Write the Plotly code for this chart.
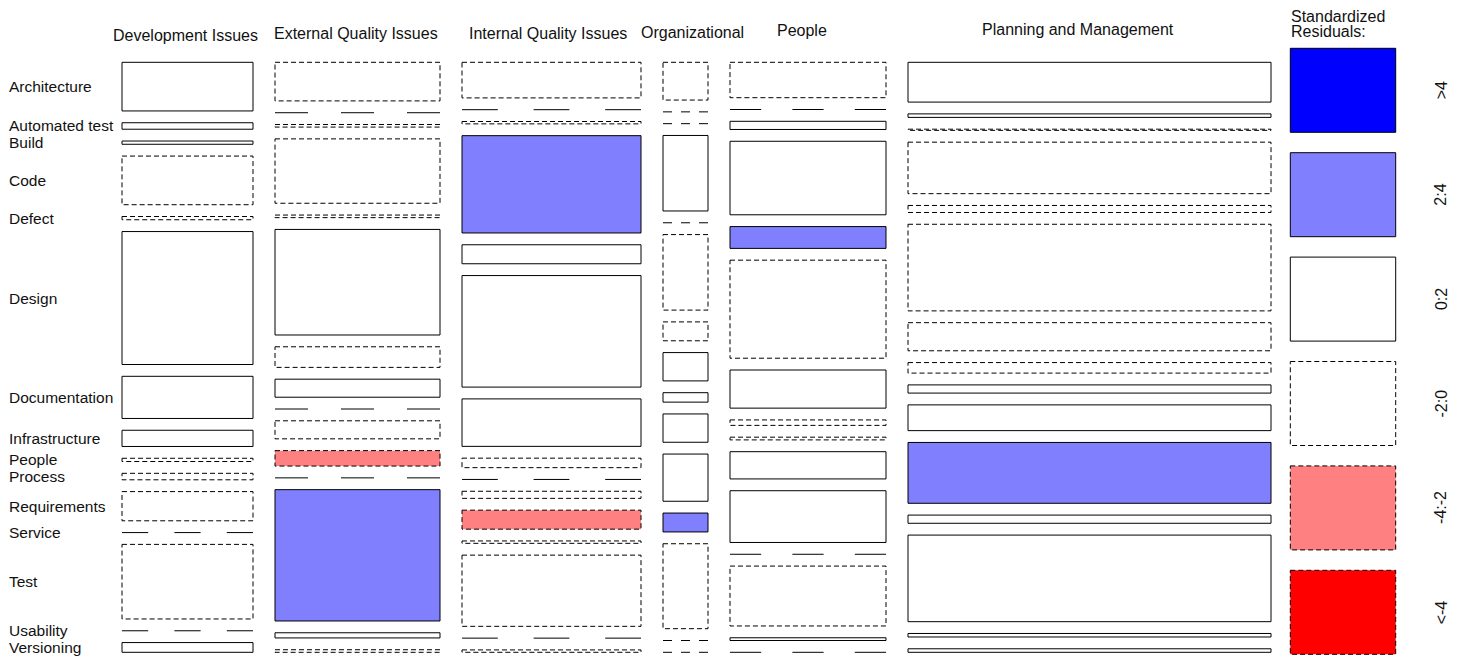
import numpy as np
import plotly.graph_objects as go

# contingency table: issue category (columns) x topic (rows)
columns = ["Development Issues", "External Quality Issues", "Internal Quality Issues",
           "Organizational", "People", "Planning and Management"]
rows = ["Architecture", "Automated test", "Build", "Code", "Defect", "Design",
        "Documentation", "Infrastructure", "People", "Process", "Requirements",
        "Service", "Test", "Usability", "Versioning"]

development = [15, 2, 1, 15, 1, 41, 13, 5, 1, 2, 9, 0, 23, 0, 3]
external = [15, 0, 1, 25, 1, 41, 8, 7, 0, 7, 6, 0, 51, 2, 1]
internal = [15, 0, 1, 41, 8, 47, 20, 4, 0, 3, 8, 1, 30, 0, 1]
organizational = [4, 0, 0, 8, 0, 8, 2, 3, 1, 3, 5, 2, 9, 0, 0]
people = [13, 0, 3, 27, 8, 36, 14, 2, 1, 10, 19, 0, 22, 1, 0]
planning = [34, 3, 1, 44, 6, 74, 24, 9, 7, 22, 52, 7, 74, 3, 3]

legend_labels = [">4", "2:4", "0:2", "-2:0", "-4:-2", "<-4"]

# %% layout constants (page pixels; the html body has an 8px margin)
W, H = 1458, 666
PAD = 8
X0, X1 = 122, 1271
Y0, Y1 = 62.3, 652.3
COL_GAP = 22
ROW_GAP = 11.8
FONT = "Arial, Liberation Sans, sans-serif"
DASH = "5px,3px"

table = np.array([development, external, internal, organizational, people, planning], dtype=float).T
n_rows, n_cols = table.shape
col_tot = table.sum(axis=0)
row_tot = table.sum(axis=1)
N = table.sum()
expected = np.outer(row_tot, col_tot) / N
resid = (table - expected) / np.sqrt(expected)

breaks = [-np.inf, -4, -2, 0, 2, 4, np.inf]
shade_colors = ["#FF0000", "#FF8080", "#FFFFFF", "#FFFFFF", "#8080FF", "#0000FF"]


def shade(r):
    k = np.searchsorted(breaks, r) - 1
    return shade_colors[int(np.clip(k, 0, 5))]


xscale = (X1 - X0 - (n_cols - 1) * COL_GAP) / N
content_h = (Y1 - Y0) - (n_rows - 1) * ROW_GAP

shapes = []
annotations = []
row_centers = []
col_left = X0
for j in range(n_cols):
    width = col_tot[j] * xscale
    y = Y0
    for i in range(n_rows):
        h = table[i, j] / col_tot[j] * content_h
        if table[i, j] == 0:
            seg = width / 5
            for k in (0, 2, 4):
                shapes.append(dict(type="line", x0=col_left + k * seg, x1=col_left + (k + 1) * seg,
                                   y0=y, y1=y, line=dict(color="black", width=1)))
        else:
            shapes.append(dict(type="rect", x0=col_left, x1=col_left + width, y0=y, y1=y + h,
                               fillcolor=shade(resid[i, j]),
                               line=dict(color="black", width=1,
                                         dash="solid" if resid[i, j] > 0 else DASH)))
        if j == 0:
            row_centers.append(y + h / 2)
        y += h + ROW_GAP
    col_left += width + COL_GAP

# column labels
label_dx = [-2.5, -1.5, -3.5, 6.5, -6, -11.5]
label_y = [35, 33, 33, 32, 30, 29]
col_left = X0
for j, name in enumerate(columns):
    width = col_tot[j] * xscale
    annotations.append(dict(x=col_left + width / 2 + label_dx[j], y=label_y[j], text=name,
                            showarrow=False, xanchor="center", yanchor="middle",
                            font=dict(family=FONT, size=16, color="#111111")))
    col_left += width + COL_GAP

# row labels
for name, yc in zip(rows, row_centers):
    annotations.append(dict(x=10, y=yc, xshift=-3, text=name, showarrow=False, xanchor="left",
                            yanchor="middle", font=dict(family=FONT, size=15.5, color="#111111")))

# legend
for txt, ty in (("Standardized", 16.5), ("Residuals:", 31)):
    annotations.append(dict(x=1289, y=ty, text=txt, showarrow=False,
                            xanchor="left", yanchor="middle",
                            font=dict(family=FONT, size=16, color="#111111")))
leg_top, leg_step, leg_h = 48.3, 104.4, 84
leg_fill = shade_colors[::-1]
for k, lab in enumerate(legend_labels):
    top = leg_top + k * leg_step
    shapes.append(dict(type="rect", x0=1290.3, x1=1395.7, y0=top, y1=top + leg_h,
                       fillcolor=leg_fill[k],
                       line=dict(color="black", width=1, dash="solid" if k < 3 else DASH)))
    annotations.append(dict(x=1441, y=top + leg_h / 2, text=lab, textangle=-90, showarrow=False,
                            xanchor="center", yanchor="middle",
                            font=dict(family=FONT, size=16, color="#111111")))

fig = go.Figure()
fig.add_trace(go.Scatter(x=[PAD, W], y=[PAD, H], mode="markers", marker=dict(opacity=0),
                         hoverinfo="skip", showlegend=False))
fig.update_layout(
    width=W - PAD, height=H - PAD,
    margin=dict(l=0, r=0, t=0, b=0),
    paper_bgcolor="white", plot_bgcolor="white",
    xaxis=dict(range=[PAD, W], visible=False, fixedrange=True),
    yaxis=dict(range=[H, PAD], visible=False, fixedrange=True),
    shapes=shapes, annotations=annotations,
    showlegend=False,
)
fig.write_html("out.html")
